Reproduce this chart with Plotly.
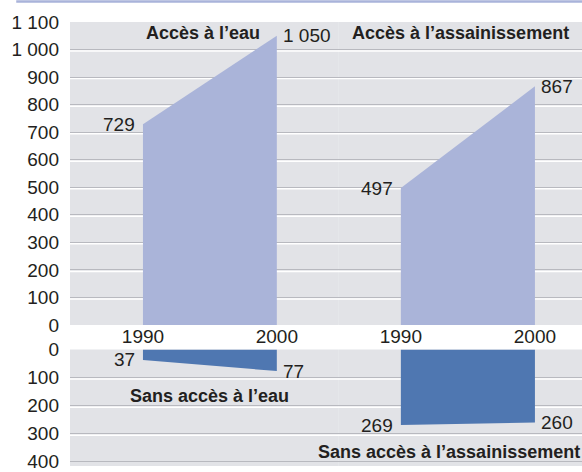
import plotly.graph_objects as go

years = [1990, 2000]
acces_eau = [729, 1050]
acces_assain = [497, 867]
sans_eau = [37, 77]
sans_assain = [269, 260]
top_ticks = [0, 100, 200, 300, 400, 500, 600, 700, 800, 900, 1000, 1100]
bottom_ticks = [0, 100, 200, 300, 400]

titles_top = ["Accès à l’eau", "Accès à l’assainissement"]
titles_bottom = ["Sans accès à l’eau", "Sans accès à l’assainissement"]

LIGHT = "#aab4d9"
DARK = "#4f77b1"
BG = "#e2e3e7"
FONT = "Liberation Sans"
TXT = "#231f20"

fig = go.Figure()
labelfont = dict(family=FONT, size=19, color=TXT)

def fmt(v):
    return f"{v:,}".replace(",", " ")

def area(x, y, xa, ya, color):
    fig.add_trace(go.Scatter(
        x=x, y=y, xaxis=xa, yaxis=ya, mode="lines",
        fill="tozeroy", fillcolor=color, line=dict(width=0, color=color),
        hoverinfo="skip", showlegend=False,
    ))
    for i, (xv, yv) in enumerate(zip(x, y)):
        left = i == 0
        fig.add_annotation(
            x=xv, y=yv, xref=xa, yref=ya, text=fmt(yv), showarrow=False,
            xanchor="right" if left else "left", yanchor="middle",
            xshift=-6 if left else 4, font=labelfont,
        )

area(years, acces_eau, "x", "y", LIGHT)
area(years, acces_assain, "x2", "y", LIGHT)
area(years, sans_eau, "x3", "y2", DARK)
area(years, sans_assain, "x4", "y2", DARK)

split = 0.525
r1 = [1984.55, 2004.63]
r2 = [1985.37, 2003.51]
tickfont = dict(family=FONT, size=19, color=TXT)

xcommon = dict(showgrid=False, zeroline=False, showline=False, ticks="",
               tickvals=years, tickfont=tickfont, ticklabelstandoff=-2,
               automargin=False, ticklabeloverflow="allow")
xhidden = dict(showticklabels=False, showgrid=False, zeroline=False,
               showline=False, ticks="", automargin=False)
ycommon = dict(tickformat=",d", tickfont=tickfont,
               showgrid=True, gridcolor="#b8b9bf", gridwidth=1,
               zeroline=False, showline=False, ticks="", ticklabelstandoff=10,
               automargin=False, ticklabeloverflow="allow")
fig.update_layout(
    xaxis=dict(domain=[0, split], range=r1, anchor="y", **xcommon),
    xaxis2=dict(domain=[split, 1], range=r2, anchor="y", **xcommon),
    xaxis3=dict(domain=[0, split], range=r1, anchor="y2", **xhidden),
    xaxis4=dict(domain=[split, 1], range=r2, anchor="y2", **xhidden),
    yaxis=dict(domain=[0.3176, 1], range=[0, 1100], anchor="x",
               tickvals=top_ticks, **ycommon),
    yaxis2=dict(domain=[0, 0.2624], range=[415, 0], anchor="x3",
                tickvals=bottom_ticks, **ycommon),
    separators=", ",
    plot_bgcolor=BG, paper_bgcolor="white",
    width=582, height=472,
    margin=dict(l=70, r=0, t=22, b=6, autoexpand=False),
)

shapes = []
for v in top_ticks[1:-1]:
    shapes.append(dict(type="line", xref="paper", x0=0, x1=1, yref="y",
                       ysizemode="pixel", yanchor=v, y0=-1.5, y1=-1.5,
                       line=dict(color="white", width=1.5), layer="below"))
for v in bottom_ticks[1:-1]:
    shapes.append(dict(type="line", xref="paper", x0=0, x1=1, yref="y2",
                       ysizemode="pixel", yanchor=v, y0=-1.5, y1=-1.5,
                       line=dict(color="white", width=1.5), layer="below"))
shapes.append(dict(type="line", xref="paper", yref="paper",
                   x0=-0.105, x1=1.0, y0=1.046, y1=1.046,
                   line=dict(color="#a9b3da", width=2.5)))
fig.update_layout(shapes=shapes)

bold = dict(family=FONT, size=18, color=TXT, weight="bold")
fig.add_annotation(text=titles_top[0], xref="paper", yref="paper",
                   x=0.26, y=0.975, showarrow=False, font=bold,
                   xanchor="center", yanchor="middle")
fig.add_annotation(text=titles_top[1], xref="paper", yref="paper",
                   x=0.979, y=0.975, showarrow=False, font=bold,
                   xanchor="right", yanchor="middle")
fig.add_annotation(text=titles_bottom[0], xref="paper", yref="paper",
                   x=0.273, y=0.158, showarrow=False, font=bold,
                   xanchor="center", yanchor="middle")
fig.add_annotation(text=titles_bottom[1], xref="paper", yref="paper",
                   x=1.0, y=0.032, showarrow=False, font=bold,
                   xanchor="right", yanchor="middle")

fig.write_html("out.html", config={"displayModeBar": False},
               post_script="document.body.style.margin='0';document.body.style.overflow='hidden';")
